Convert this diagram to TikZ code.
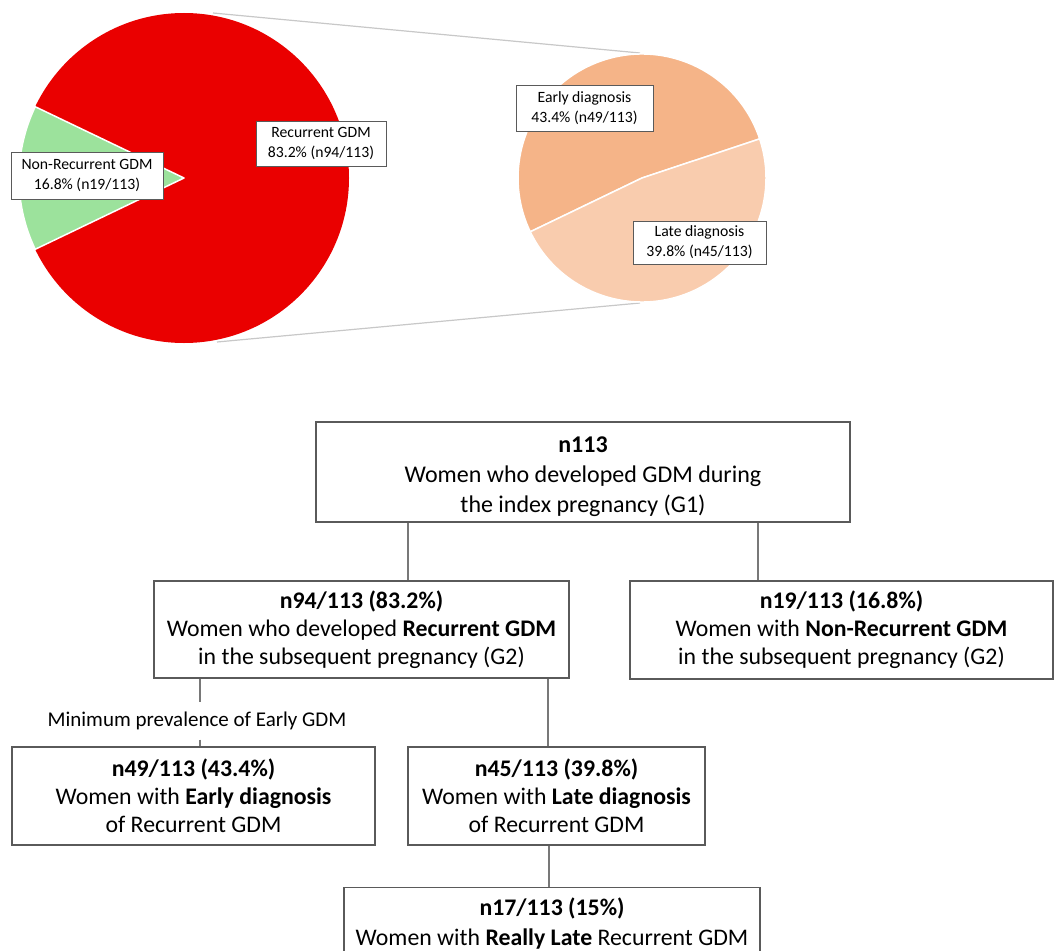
\documentclass[tikz,border=0pt]{standalone}
\usepackage{fontspec}
\setmainfont{Carlito}
\definecolor{pred}{RGB}{234,0,0}
\definecolor{pgreen}{RGB}{156,226,156}
\definecolor{pearly}{RGB}{245,180,136}
\definecolor{plate}{RGB}{249,204,174}
\definecolor{guide}{RGB}{200,200,200}
\definecolor{boxline}{RGB}{90,90,90}
\definecolor{conn}{RGB}{120,120,120}
\tikzset{
  flowbox/.style={draw=boxline, line width=1.3pt, fill=white, align=center, inner sep=0pt,
    font=\fontsize{23.8}{28}\selectfont},
  pielab/.style={draw=boxline, line width=1pt, fill=white, align=center, inner sep=0pt,
    font=\fontsize{15.7}{20}\selectfont},
  link/.style={draw=conn, line width=1.3pt},
  slice/.style={draw=white, line width=1.5pt, line join=round}
}
\begin{document}
\begin{tikzpicture}[x=1pt, y=-1pt]
\clip (0,0) rectangle (1056,950);
\fill[white] (0,0) rectangle (1056,950);
% guide lines
\draw[guide, line width=1.2pt] (213,13) -- (640,53);
\draw[guide, line width=1.2pt] (217,342) -- (640,303);
% red pie
\coordinate (c1) at (184,178);
\fill[pred] (c1) circle[radius=165];
\filldraw[slice, fill=pgreen] (c1) -- ++(-154.4:165) arc[start angle=-154.4, end angle=-205.6, radius=165] -- cycle;
% right pie
\coordinate (c2) at (642,178);
\filldraw[slice, fill=pearly] (c2) -- ++(-18.4:124) arc[start angle=-18.4, end angle=-205.7, radius=124] -- cycle;
\filldraw[slice, fill=plate] (c2) -- ++(-205.7:124) arc[start angle=-205.7, end angle=-378.4, radius=124] -- cycle;
% pie labels
\node[pielab, minimum width=152pt, minimum height=47pt] (lnon) at (87,175.5) {Non-Recurrent GDM\\16.8\% (n19/113)};
\node[pielab, minimum width=130pt, minimum height=45pt] (lrec) at (321,143.5) {Recurrent GDM\\83.2\% (n94/113)};
\node[pielab, minimum width=137pt, minimum height=46pt] (learly) at (584.5,108) {Early diagnosis\\43.4\% (n49/113)};
\node[pielab, minimum width=133pt, minimum height=43pt] (llate) at (699.5,242.5) {Late diagnosis\\39.8\% (n45/113)};
% flow boxes
\node[flowbox, minimum width=534pt, minimum height=100pt, font=\fontsize{24}{30}\selectfont] (top) at (583,472)
  {\rule{0pt}{26pt}\textbf{n113}\\Women who developed GDM during\\the index pregnancy (G1)};
\node[flowbox, minimum width=415pt, minimum height=97pt] (A) at (361.5,629.5)
  {\textbf{n94/113 (83.2\%)}\\Women who developed \textbf{Recurrent GDM}\\in the subsequent pregnancy (G2)};
\node[flowbox, minimum width=423pt, minimum height=98pt] (B) at (841.5,630)
  {\textbf{n19/113 (16.8\%)}\\Women with \textbf{Non-Recurrent GDM}\\in the subsequent pregnancy (G2)};
\node[flowbox, minimum width=363pt, minimum height=98pt] (C) at (193.5,796)
  {\textbf{n49/113 (43.4\%)}\\Women with \textbf{Early diagnosis}\\of Recurrent GDM};
\node[flowbox, minimum width=297pt, minimum height=98pt] (D) at (556.5,796)
  {\textbf{n45/113 (39.8\%)}\\Women with \textbf{Late diagnosis}\\of Recurrent GDM};
\node[flowbox, minimum width=416pt, minimum height=72pt, anchor=north, font=\fontsize{23.8}{30}\selectfont] (E) at (552,887)
  {\textbf{n17/113 (15\%)}\\Women with \textbf{Really Late} Recurrent GDM};
\node[inner sep=0pt, minimum height=37pt, font=\fontsize{21}{25}\selectfont] (minlab) at (197,721) {Minimum prevalence of Early GDM};
% connectors
\coordinate (xa) at (408,0);
\coordinate (xb) at (758,0);
\coordinate (xc) at (200,0);
\coordinate (xd) at (548,0);
\coordinate (xe) at (549,0);
\draw[link] (top.south -| xa) -- (A.north -| xa);
\draw[link] (top.south -| xb) -- (B.north -| xb);
\draw[link] (A.south -| xc) -- (minlab.north -| xc);
\draw[link] (minlab.south -| xc) -- (C.north -| xc);
\draw[link] (A.south -| xd) -- (D.north -| xd);
\draw[link] (D.south -| xe) -- (E.north -| xe);
\end{tikzpicture}
\end{document}
